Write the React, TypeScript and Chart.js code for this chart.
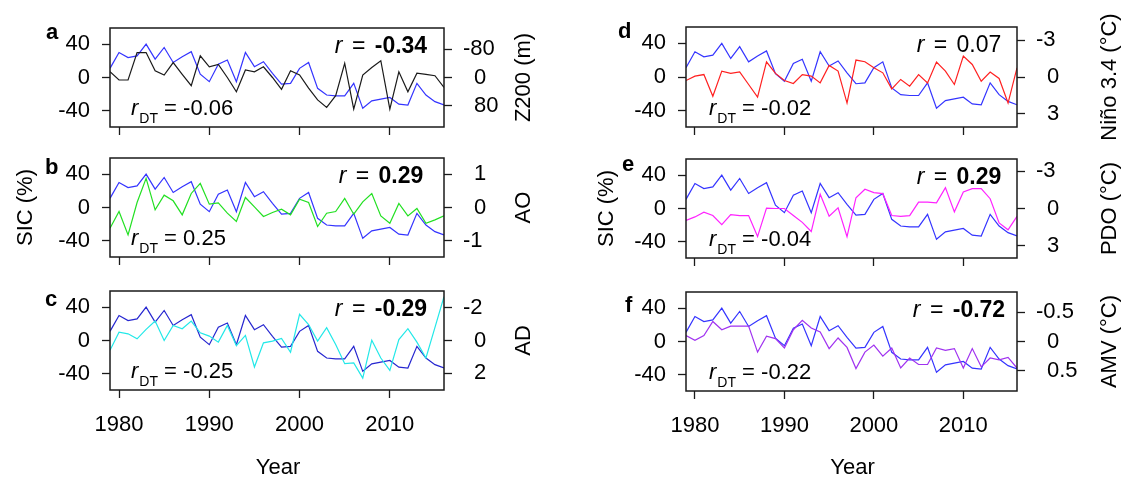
import React, { useEffect, useRef } from "react";
import { Chart, registerables } from "chart.js";
Chart.register(...registerables);

const FONT = '"Liberation Sans", Arial, Helvetica, sans-serif';

// ---------------- data ----------------
const years = [1979, 1980, 1981, 1982, 1983, 1984, 1985, 1986, 1987, 1988, 1989, 1990, 1991, 1992, 1993, 1994, 1995, 1996, 1997, 1998, 1999, 2000, 2001, 2002, 2003, 2004, 2005, 2006, 2007, 2008, 2009, 2010, 2011, 2012, 2013, 2014, 2015, 2016];
const sic = [11, 30, 24, 26, 40, 22, 36, 18, 25, 31, 4, -5, 16, 21, -5, 30, 13, 19, 5, -8, -7, 11, 18, -13, -21, -22, -22, -7, -37, -28, -26, -24, -32, -33, -7, -21, -29, -33];
const z200 = [-16, 7, 7, -70, -70, -19, -7, -42, -9, 23, -61, -30, -37, 0, 40, -21, -16, -30, 0, 33, -19, -7, 30, 63, 84, 51, -40, 89, -7, -28, -47, 89, -16, 40, -12, -9, -5, 28];
const ao = [-0.62, -0.12, -0.82, 0.15, 0.87, -0.07, 0.37, 0.2, -0.22, 0.42, 0.72, 0.1, 0.14, -0.17, -0.42, 0.3, 0.02, -0.27, -0.15, -0.05, -0.22, 0.25, 0.15, -0.57, -0.17, -0.12, 0.27, -0.2, 0.17, 0.42, -0.25, -0.47, 0.12, -0.25, -0.03, -0.47, -0.37, -0.25];
const ad = [0.6, -0.51, -0.41, -0.1, -0.68, -1.19, 0, -0.92, -0.72, -1.19, -0.47, -0.27, 0.1, -0.92, 0.31, -0.31, 1.62, 0.14, 0.04, -0.12, 0.72, -1.6, -0.98, 0.04, -0.78, 0.25, 1.42, 1.37, 2.3, -0.02, 1.07, 1.83, -0.06, -0.72, 0.1, 1.07, -0.8, -2.69];
const nino = [0.29, -0.07, -0.2, 1.57, -0.48, -0.29, -0.42, 0.61, 1.63, -1.24, -0.29, 0.29, 0.53, -0.2, -0.07, 0.48, -0.94, -0.48, 2.12, -1.38, -1.24, -0.75, -0.34, 0.97, 0.2, 0.75, -0.2, 0.48, -1.22, -0.48, 0.61, -1.71, -1.02, 0.34, -0.4, 0.12, 2.12, -0.75];
const pdo = [0.96, 0.68, 0.3, 0.57, 1.31, 0.49, 0.57, 0.57, 2.27, -0.03, 0, 0, 0.57, 1.12, 1.86, -1.15, 0.63, -0.05, 2.27, -0.87, -1.56, -1.28, -1.2, 0.57, 0.63, 0.57, -0.52, -0.52, -0.46, -1.69, 0.27, -1.34, -1.61, -1.61, -0.79, 1.17, 1.72, 0.63];
const amv = [-0.1, -0.02, -0.1, -0.34, -0.2, -0.26, -0.26, -0.26, 0.18, -0.09, -0.05, 0.11, -0.2, -0.36, -0.23, -0.16, 0.12, -0.06, 0.1, 0.46, 0.18, 0.06, 0.25, 0.11, 0.45, 0.28, 0.39, 0.39, 0.11, 0.15, 0.12, 0.45, 0.12, 0.43, 0.28, 0.31, 0.27, 0.45];

const yearTicks = [1980, 1990, 2000, 2010];
const sicTicks = [-40, 0, 40];
const z200Ticks = [-80, 0, 80];
const aoTicks = [-1, 0, 1];
const adTicks = [-2, 0, 2];
const ninoTicks = [-3, 0, 3];
const pdoTicks = [-3, 0, 3];
const amvTicks = [-0.5, 0, 0.5];

// ---------------- layout ----------------
const COLS = [
  { left: 0, width: 560, boxLeft: 110, boxRight: 444, rCenter: 381, rdtX: 131, title2X: 524, sicX: 26 },
  { left: 560, width: 561, boxLeft: 686, boxRight: 1017, rCenter: 959, rdtX: 709, title2X: 1110, sicX: 607 },
];
const ROWS = [
  { top: 0, height: 142 },
  { top: 142, height: 130 },
  { top: 272, height: 207 },
];

interface PanelSpec {
  id: string;
  col: number;
  row: number;
  series: number[];
  color: string;
  sicColor: string;
  ticks2: number[];
  min2: number;
  max2: number;
  reverse2: boolean;
  title2: string;
  r: string;
  rBold: boolean;
  rdt: string;
  boxTop: number;
  boxBottom: number;
  letterX: number;
  letterY: number;
}

const BLUE = "#3434ff";

const panels: PanelSpec[] = [
  { id: "a", col: 0, row: 0, series: z200, color: "#1a1a1a", sicColor: BLUE, ticks2: z200Ticks, min2: -139, max2: 139, reverse2: true, title2: "Z200 (m)", r: "-0.34", rBold: true, rdt: "-0.06", boxTop: 28, boxBottom: 127, letterX: 46, letterY: 39 },
  { id: "b", col: 0, row: 1, series: ao, color: "#22e022", sicColor: BLUE, ticks2: aoTicks, min2: -1.48, max2: 1.48, reverse2: false, title2: "AO", r: "0.29", rBold: true, rdt: "0.25", boxTop: 158, boxBottom: 257, letterX: 45, letterY: 174 },
  { id: "c", col: 0, row: 2, series: ad, color: "#22e8e8", sicColor: "#2626d0", ticks2: adTicks, min2: -3.03, max2: 3.03, reverse2: true, title2: "AD", r: "-0.29", rBold: true, rdt: "-0.25", boxTop: 291, boxBottom: 390, letterX: 45, letterY: 306 },
  { id: "d", col: 1, row: 0, series: nino, color: "#ff2020", sicColor: BLUE, ticks2: ninoTicks, min2: -4.07, max2: 4.07, reverse2: true, title2: "Niño 3.4 (°C)", r: "0.07", rBold: false, rdt: "-0.02", boxTop: 27, boxBottom: 127, letterX: 618, letterY: 38 },
  { id: "e", col: 1, row: 1, series: pdo, color: "#ff22ff", sicColor: BLUE, ticks2: pdoTicks, min2: -4.0, max2: 4.0, reverse2: true, title2: "PDO (°C)", r: "0.29", rBold: true, rdt: "-0.04", boxTop: 159, boxBottom: 258, letterX: 622, letterY: 171 },
  { id: "f", col: 1, row: 2, series: amv, color: "#a032f0", sicColor: BLUE, ticks2: amvTicks, min2: -0.84, max2: 0.84, reverse2: true, title2: "AMV (°C)", r: "-0.72", rBold: true, rdt: "-0.22", boxTop: 292, boxBottom: 391, letterX: 625, letterY: 312 },
];

function fmt2(v: number): string {
  return v < 0 ? String(v) : "\u2002" + String(v);
}

function Panel({ p }: { p: PanelSpec }) {
  const ref = useRef<HTMLCanvasElement | null>(null);
  const col = COLS[p.col];
  const row = ROWS[p.row];

  useEffect(() => {
    const canvas = ref.current;
    if (!canvas) return;
    const bottomRow = p.row === 2;
    const XH = bottomRow ? 60 : 10;
    const YW = 60;
    const Y2W = 60;
    const lBox = col.boxLeft - col.left;
    const rBox = col.boxRight - col.left;
    const tBox = p.boxTop - row.top;
    const bBox = p.boxBottom - row.top;
    const padding = {
      left: lBox - YW,
      right: col.width - rBox - Y2W,
      top: tBox,
      bottom: row.height - bBox - XH,
    };
    const fixSize = (dim: "w" | "h", v: number) => (s: any) => {
      if (dim === "w") s.width = v;
      else s.height = v;
      s.paddingLeft = 0;
      s.paddingRight = 0;
      s.paddingTop = 0;
      s.paddingBottom = 0;
    };
    const setTicks = (vals: number[]) => (s: any) => {
      s.ticks = vals.map((v) => ({ value: v }));
    };
    const tickFont = { family: FONT, size: 22 };
    const gridOpts = {
      display: true,
      drawOnChartArea: false,
      drawTicks: true,
      tickLength: 8,
      tickColor: "#1a1a1a",
      tickWidth: 1.3,
      color: "#1a1a1a",
    };

    const decor = {
      id: "decor_" + p.id,
      afterDraw(chart: any) {
        const ctx: CanvasRenderingContext2D = chart.ctx;
        const a = chart.chartArea;
        ctx.save();
        ctx.strokeStyle = "#1a1a1a";
        ctx.lineWidth = 1.5;
        ctx.strokeRect(a.left, a.top, a.right - a.left, a.bottom - a.top);
        ctx.fillStyle = "#000";
        ctx.textBaseline = "alphabetic";
        ctx.textAlign = "left";

        // panel letter
        ctx.font = `bold 22px ${FONT}`;
        ctx.fillText(p.id, p.letterX - col.left, p.letterY - row.top);

        // r = value
        const rFont = `italic 23px ${FONT}`;
        const eqFont = `23px ${FONT}`;
        const valFont = `${p.rBold ? "bold " : ""}23px ${FONT}`;
        const extra = 3;
        ctx.font = rFont;
        const w1 = ctx.measureText("r").width;
        ctx.font = eqFont;
        const w2 = ctx.measureText(" = ").width + 2 * extra;
        ctx.font = valFont;
        const w3 = ctx.measureText(p.r).width;
        const x0 = col.rCenter - col.left - (w1 + w2 + w3) / 2;
        const yR = a.top + 25;
        ctx.font = rFont;
        ctx.fillText("r", x0, yR);
        ctx.font = eqFont;
        ctx.fillText(" = ", x0 + w1 + extra, yR);
        ctx.font = valFont;
        ctx.fillText(p.r, x0 + w1 + w2, yR);

        // r_DT = value
        const yD = a.bottom - 12;
        let xd = col.rdtX - col.left;
        ctx.font = `italic 22px ${FONT}`;
        ctx.fillText("r", xd, yD);
        xd += ctx.measureText("r").width + 1;
        ctx.font = `14px ${FONT}`;
        ctx.fillText("DT", xd, yD + 8);
        xd += ctx.measureText("DT").width;
        ctx.font = `22px ${FONT}`;
        ctx.fillText(" = " + p.rdt, xd, yD);

        // right axis title
        const cy = (a.top + a.bottom) / 2;
        ctx.save();
        ctx.translate(col.title2X - col.left, cy);
        ctx.rotate(-Math.PI / 2);
        ctx.textAlign = "center";
        ctx.textBaseline = "middle";
        ctx.font = `22px ${FONT}`;
        ctx.fillText(p.title2, 0, 0);
        ctx.restore();

        // shared left title
        if (p.row === 1) {
          ctx.save();
          ctx.translate(col.sicX - col.left, cy);
          ctx.rotate(-Math.PI / 2);
          ctx.textAlign = "center";
          ctx.textBaseline = "middle";
          ctx.font = `22px ${FONT}`;
          ctx.fillText("SIC (%)", 0, 0);
          ctx.restore();
        }

        // x title
        if (bottomRow) {
          ctx.textAlign = "center";
          ctx.font = `22px ${FONT}`;
          ctx.fillText("Year", (a.left + a.right) / 2 + 1, 474 - row.top);
        }
        ctx.restore();
      },
    };

    const chart = new Chart(canvas, {
      type: "line",
      data: {
        datasets: [
          {
            data: years.map((yr, i) => ({ x: yr, y: p.series[i] })),
            yAxisID: "y2",
            borderColor: p.color,
            borderWidth: 1.2,
            pointRadius: 0,
            tension: 0,
            fill: false,
          },
          {
            data: years.map((yr, i) => ({ x: yr, y: sic[i] })),
            yAxisID: "y",
            borderColor: p.sicColor,
            borderWidth: 1.2,
            pointRadius: 0,
            tension: 0,
            fill: false,
          },
        ],
      },
      options: {
        animation: false,
        responsive: false,
        devicePixelRatio: 1,
        events: [],
        layout: { padding },
        plugins: { legend: { display: false }, tooltip: { enabled: false } },
        scales: {
          x: {
            type: "linear",
            position: "bottom",
            min: 1979,
            max: 2016,
            afterBuildTicks: setTicks(yearTicks),
            afterFit: fixSize("h", XH),
            ticks: {
              display: bottomRow,
              autoSkip: false,
              maxRotation: 0,
              minRotation: 0,
              padding: 14,
              color: "#000",
              font: tickFont,
              callback: (v: any) => String(v),
            },
            grid: gridOpts,
            border: { display: false },
          },
          y: {
            type: "linear",
            position: "left",
            min: -59.4,
            max: 59.4,
            afterBuildTicks: setTicks(sicTicks),
            afterFit: fixSize("w", YW),
            ticks: {
              autoSkip: false,
              padding: 12,
              color: "#000",
              font: tickFont,
              callback: (v: any) => String(v),
            },
            grid: gridOpts,
            border: { display: false },
          },
          y2: {
            type: "linear",
            position: "right",
            min: p.min2,
            max: p.max2,
            reverse: p.reverse2,
            afterBuildTicks: setTicks(p.ticks2),
            afterFit: fixSize("w", Y2W),
            ticks: {
              autoSkip: false,
              padding: 11,
              color: "#000",
              font: tickFont,
              callback: (v: any) => fmt2(Number(v)),
            },
            grid: gridOpts,
            border: { display: false },
          },
        },
      } as any,
      plugins: [decor],
    });
    return () => chart.destroy();
  }, []);

  return (
    <canvas
      ref={ref}
      width={col.width}
      height={row.height}
      style={{ position: "absolute", left: col.left, top: row.top, width: col.width, height: row.height }}
    />
  );
}

export default function App() {
  return (
    <div style={{ position: "absolute", left: 0, top: 0, width: 1121, height: 479, background: "#fff" }}>
      {panels.map((p) => (
        <Panel key={p.id} p={p} />
      ))}
    </div>
  );
}
